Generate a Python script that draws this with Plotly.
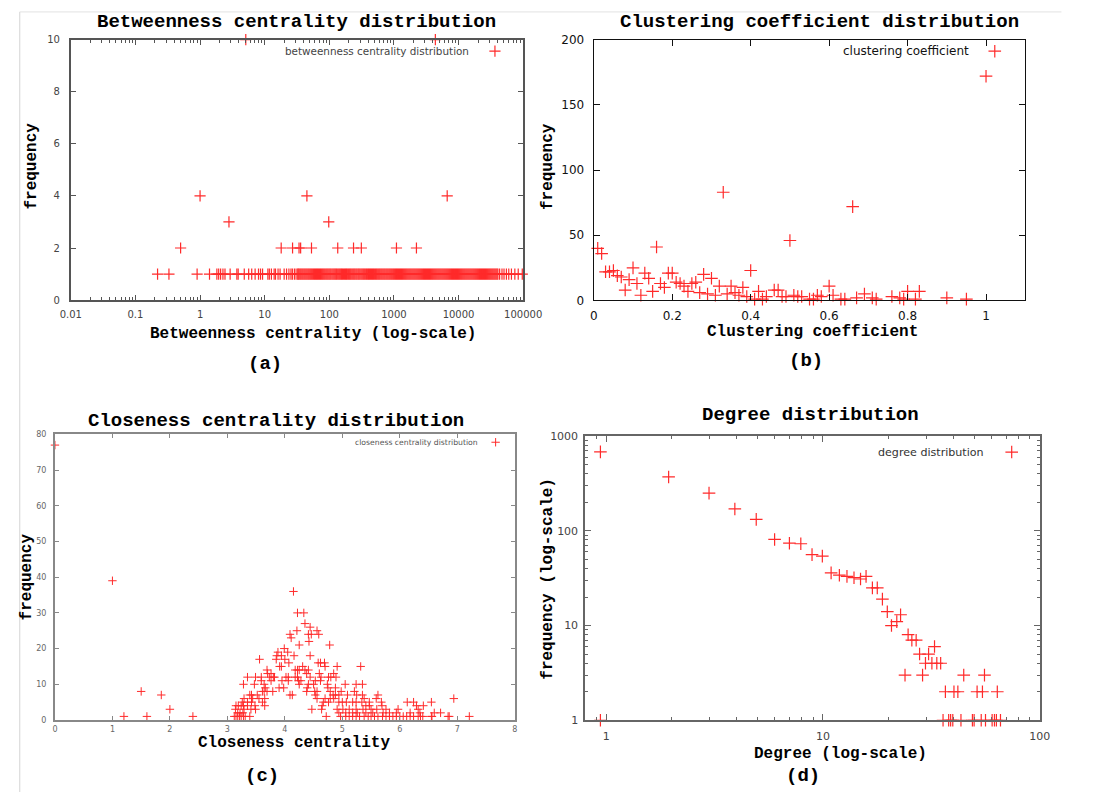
import math
import plotly.graph_objects as go

W, H = 1096, 799


def fx(p):
    return p / W


def fy(p):
    return 1 - p / H


# ---------------- (a) Betweenness centrality ----------------
betw_multi_values = [0.5, 1.0, 2.8, 18, 27, 34, 36, 45, 53, 98, 135, 237, 313,
                     1094, 2229, 6670, 5.1, 4375]
betw_multi_freq = [2, 4, 3, 2, 2, 2, 2, 4, 2, 3, 2, 2, 2, 2, 2, 4, 10, 10]
betw_single_values = [
    0.22, 0.33, 0.9, 1.4, 1.82, 1.94, 2.08, 2.26, 2.43, 2.92, 3.71, 3.89, 4.83,
    5.65, 6.30, 7.11, 8.02, 8.62, 9.27, 11.2, 11.8, 12.7, 14.0, 14.7, 16.1,
    17.3, 20.0, 21.8, 23.7, 25.5, 26.8, 28.8, 30.6, 32.5,
    33, 34.2, 35.4, 36.6, 37.9, 39.2, 40.6, 42.0, 43.5, 45.0, 46.6, 48.2,
    49.9, 51.6, 53.4, 55.3, 57.2, 59.2, 61.3, 63.4, 65.6, 67.9, 70.3, 72.8,
    75.3, 77.9, 80.6, 83.4, 86.3, 89.4, 92.5, 95.7, 99.1, 102.5, 106, 110,
    114, 118, 122, 126, 130, 135, 140, 145, 150, 155, 160, 166, 172, 178, 184,
    190, 197, 204, 211, 218, 226, 234, 242, 250, 259, 268, 278, 287, 297, 308,
    319, 330, 341, 353, 366, 378, 392, 405, 419, 434, 449, 465, 481, 498, 516,
    534, 552, 572, 592, 612, 634, 656, 679, 703, 727, 753, 779, 806, 835, 864,
    894, 925, 958, 991, 1026, 1062, 1099, 1137, 1177, 1218, 1261, 1305, 1351,
    1398, 1447, 1498, 1550, 1604, 1660, 1719, 1779, 1841, 1905, 1972, 2041,
    2112, 2186, 2263, 2342, 2424, 2509, 2597, 2688, 2782, 2879, 2980, 3084,
    3192, 3304, 3420, 3539, 3663, 3791, 3924, 4061, 4204, 4351, 4503, 4661,
    4824, 4993, 5168, 5348, 5536, 5729, 5930, 6137, 6352, 6574, 6805, 7043,
    7290, 7545, 7809, 8082, 8365, 8658, 8961, 9275, 9599, 9935, 10283, 10643,
    11015, 11401, 11800, 12213, 12640, 13083, 13541, 14015, 14505, 15013,
    15538, 16082, 16645, 17228, 17831, 18455, 19101, 19769, 20461, 21177,
    21918, 22686, 23480, 24301, 25152, 26032, 26943, 27886, 28862, 29873,
    30918, 32000, 33120, 34279, 35479, 36721, 38006, 39336,
    40600, 43200, 47000, 50500, 55000, 59800, 65800, 74300, 83800, 96800]
betw_single_freq = [1] * len(betw_single_values)

# ---------------- (b) Clustering coefficient ----------------
clust_values = [0.01, 0.02, 0.03, 0.04, 0.05, 0.06, 0.07, 0.08, 0.09, 0.10,
                0.11, 0.12, 0.13, 0.14, 0.15, 0.16, 0.17, 0.18, 0.19, 0.20,
                0.21, 0.22, 0.23, 0.24, 0.25, 0.26, 0.27, 0.28, 0.29, 0.30,
                0.31, 0.32, 0.33, 0.34, 0.35, 0.36, 0.37, 0.38, 0.39, 0.40,
                0.41, 0.42, 0.43, 0.44, 0.46, 0.47, 0.48, 0.49, 0.50, 0.51,
                0.52, 0.53, 0.55, 0.56, 0.57, 0.58, 0.60, 0.61, 0.63, 0.64,
                0.66, 0.67, 0.69, 0.71, 0.72, 0.76, 0.78, 0.79, 0.80, 0.82,
                0.83, 0.90, 0.95, 1.00]
clust_freq = [40, 36, 22, 22, 23, 19, 18, 8, 16, 25,
              13, 4, 21, 17, 7, 41, 13, 10, 21, 21,
              14, 13, 11, 7, 13, 14, 6, 20, 5, 17,
              4, 11, 83, 5, 11, 6, 4, 10, 3, 23,
              1, 7, 1, 3, 8, 8, 3, 3, 46, 4,
              3, 3, 1, 1, 4, 3, 11, 4, 1, 1,
              72, 2, 5, 2, 1, 3, 2, 1, 7, 1,
              7, 2, 1, 172]

# ---------------- (c) Closeness centrality ----------------
close_values = [
    0.0, 1.0, 4.15, 1.2, 1.5, 1.6, 1.85, 2.0, 2.4,
    4.22, 4.33, 4.21, 4.35, 4.44, 4.41, 4.46, 4.42, 4.56, 4.59,
    4.25, 4.78, 4.09, 4.11, 3.99, 4.05, 3.88, 3.86, 3.94, 4.16,
    4.44, 3.85, 4.00, 3.56, 4.07, 4.58, 4.62, 4.69, 4.70, 4.91,
    5.32, 3.91, 3.94, 4.31,
    4.41, 4.18, 4.22, 4.25, 4.35, 4.38, 4.60, 3.69, 3.70, 3.76,
    3.73, 3.80, 3.82, 4.02, 4.06, 4.18, 4.22, 4.44, 4.76, 4.80,
    4.85, 4.89, 3.35, 3.49, 3.59, 3.59, 4.24, 4.28, 4.53, 4.62, 4.63,
    3.28, 3.47, 3.64, 3.76, 3.95, 4.06, 4.25, 4.39, 4.41, 4.50,
    4.74, 4.75, 5.05, 5.24, 5.35, 4.88, 4.98, 5.21, 3.66, 3.61,
    3.64, 3.69, 3.79, 3.90, 3.98, 4.38, 4.52, 4.56, 4.79, 4.84,
    3.52, 3.39, 3.42, 4.09, 4.13, 4.53, 4.56, 4.88, 4.94, 5.09,
    5.25, 5.35, 5.38, 5.62, 5.59, 4.70, 4.79, 4.85, 3.29, 3.44,
    3.55, 3.65,
    4.67, 4.65, 4.76, 4.94, 5.00, 5.07, 5.18, 5.24, 5.34, 5.47,
    5.68, 6.13, 6.24, 6.55, 6.94, 3.26, 3.35, 3.42, 3.61,
    3.15, 3.19, 3.24, 3.28, 3.35, 3.48, 3.65, 4.47, 4.64, 5.41,
    5.47, 5.69, 6.29, 6.41, 3.29, 3.41, 3.49, 3.14, 4.91, 5.01,
    5.12, 5.24, 5.36, 5.50, 5.60, 5.76, 5.97, 6.32,
    4.94, 5.06, 5.18, 5.26, 5.41, 5.53, 5.71, 5.82, 5.94, 6.18,
    6.35, 6.60, 6.71, 3.18, 3.22, 3.27,
    4.72, 3.12, 3.15, 3.18, 3.21, 3.24, 3.28, 3.31, 3.39, 4.97,
    5.06, 5.12, 5.18, 5.24, 5.30, 5.38, 5.45, 5.50, 5.56, 5.62,
    5.70, 5.76, 5.82, 5.88, 5.94, 6.00, 6.06, 6.12, 6.18, 6.24,
    6.32, 6.36, 6.40, 6.55, 6.56, 6.84, 6.86, 7.21]
close_freq = [
    77, 39, 36, 1, 8, 1, 7, 3, 1,
    30, 30, 25, 27, 26, 24, 24, 22, 25, 24,
    21, 21, 24, 23, 20, 19, 19, 18, 18, 18,
    18, 17, 17, 17, 16, 16, 16, 16, 15, 15,
    15, 15, 15, 15,
    14, 14, 14, 14, 14, 13, 13, 14, 13, 13,
    12, 12, 12, 12, 12, 12, 12, 12, 12, 12,
    13, 12, 12, 12, 12, 11, 11, 11, 11, 11, 12,
    10, 10, 10, 11, 11, 11, 10, 9, 10, 10,
    10, 9, 10, 10, 10, 9, 8, 8, 9, 8,
    8, 8, 8, 9, 9, 8, 8, 8, 8, 7,
    7, 7, 7, 7, 7, 7, 6, 7, 7, 7,
    7, 7, 6, 7, 6, 6, 6, 6, 6, 6,
    6, 6,
    5, 4, 5, 5, 5, 5, 5, 5, 5, 5,
    5, 5, 5, 5, 6, 5, 5, 5, 5,
    4, 4, 4, 4, 4, 4, 4, 3, 3, 4,
    4, 4, 4, 4, 3, 3, 3, 3, 3, 3,
    3, 3, 3, 3, 3, 3, 3, 3,
    2, 2, 2, 2, 2, 2, 2, 2, 2, 2,
    2, 2, 2, 2, 2, 2,
    1, 1, 1, 1, 1, 1, 1, 1, 1, 1,
    1, 1, 1, 1, 1, 1, 1, 1, 1, 1,
    1, 1, 1, 1, 1, 1, 1, 1, 1, 1,
    1, 1, 1, 1, 1, 1, 1, 1]

# ---------------- (d) Degree ----------------
degree_values = [0.94, 1.94, 2.98, 3.92, 4.92, 5.98, 7.0, 7.9, 8.9, 9.93,
                 10.9, 11.9, 12.9, 13.9, 14.9, 15.8, 16.9, 17.8, 18.8, 19.8,
                 20.7, 21.9, 22.8, 23.9, 24.7, 25.7, 26.9, 27.9, 28.8, 29.7,
                 30.7, 31.8, 32.7, 33.5, 34.9, 36.7, 40.2, 41.9, 44.6, 51.4,
                 54.4, 55.6, 63.7,
                 0.94, 35.8, 38.0, 38.8, 39.7, 43.3, 48.9, 49.8, 53.7, 56.2,
                 60.3, 61.8, 63.1, 65.9]
degree_freq = [680, 370, 250, 170, 132, 81, 74, 73, 56, 54,
               36, 34, 33, 32, 31, 33, 25, 25, 19, 14,
               10, 11, 13, 3, 8, 7, 7, 5, 3, 4,
               5, 4, 6, 4, 4, 2, 2, 2, 3, 2,
               2, 3, 2,
               1, 1, 1, 1, 1, 1, 1, 1, 1, 1,
               1, 1, 1, 1]

RED = "#ff2a2a"
MONO = "Liberation Mono"
SANS = "DejaVu Sans"

fig = go.Figure()


def cross(size, width):
    return dict(symbol="cross-thin", size=size, color=RED,
                line=dict(color=RED, width=width))


fig.add_trace(go.Scatter(
    x=betw_multi_values + betw_single_values,
    y=betw_multi_freq + betw_single_freq,
    mode="markers", marker=cross(8, 1.2), cliponaxis=False,
    xaxis="x", yaxis="y", name=" ", legend="legend", showlegend=True))
fig.add_trace(go.Scatter(
    x=clust_values, y=clust_freq, mode="markers", marker=cross(9, 1.2),
    cliponaxis=False, xaxis="x2", yaxis="y2", name=" ", legend="legend2",
    showlegend=True))
fig.add_trace(go.Scatter(
    x=close_values, y=close_freq, mode="markers", marker=cross(6, 1),
    cliponaxis=False, xaxis="x3", yaxis="y3", name=" ", legend="legend3",
    showlegend=True))
fig.add_trace(go.Scatter(
    x=degree_values, y=degree_freq, mode="markers", marker=cross(9, 1.2),
    cliponaxis=False, xaxis="x4", yaxis="y4", name=" ", legend="legend4",
    showlegend=True))


def ax(color, lw, tfont_size, tfont_color, ticklen=5):
    return dict(showline=True, linecolor=color, linewidth=lw, mirror="ticks",
                ticks="inside", tickcolor=color, tickwidth=1, ticklen=ticklen,
                showgrid=False, zeroline=False,
                tickfont=dict(family=SANS, size=tfont_size, color=tfont_color))


def log_minor(exps, extra=()):
    vals = [k * 10 ** e for e in exps for k in range(2, 10)] + list(extra)
    return vals


# (a)
xa = ax("#555555", 1.8, 10, "#444444")
xa.update(domain=[fx(61.5), fx(526.6)], type="log", range=[-2, 5],
          tickvals=[0.01, 0.1, 1, 10, 100, 1000, 10000, 100000],
          ticktext=["0.01", "0.1", "1", "10", "100", "1000", "10000", "100000"],
          minor=dict(tickvals=log_minor(range(-2, 5)), ticks="inside",
                     ticklen=3, tickcolor="#555555"),
          anchor="y", ticklabelstandoff=4)
ya = ax("#555555", 1.8, 10, "#444444")
ya.update(domain=[fy(298.3), fy(33.3)], range=[0, 10], tickvals=[0, 2, 4, 6, 8, 10],
          anchor="x", ticklabelstandoff=7)

# (b)
xb = ax("#111111", 1.3, 12, "#111111", ticklen=6)
xb.update(domain=[fx(599.2), fx(1042.8)], range=[0, 1.1],
          tickvals=[0, 0.2, 0.4, 0.6, 0.8, 1],
          ticktext=["0", "0.2", "0.4", "0.6", "0.8", "1"], anchor="y2",
          ticklabelstandoff=4)
yb = ax("#111111", 1.3, 12, "#111111", ticklen=6)
yb.update(domain=[fy(298.7), fy(33.3)], range=[0, 200],
          tickvals=[0, 50, 100, 150, 200], anchor="x2", ticklabelstandoff=6)

# (c)
xc = ax("#888888", 1.8, 8, "#666666", ticklen=4)
xc.update(domain=[fx(45.2), fx(517.9)], range=[0, 8], dtick=1, anchor="y3",
          ticklabelstandoff=1)
yc = ax("#888888", 1.8, 8, "#666666", ticklen=4)
yc.update(domain=[fy(725.7), fy(435)], range=[0, 80], dtick=10, anchor="x3",
          ticklabelstandoff=5)

# (d)
xd = ax("#666666", 1.8, 11, "#444444", ticklen=6)
xd.update(domain=[fx(590.4), fx(1057.7)], type="log",
          range=[math.log10(0.8), 2], tickvals=[1, 10, 100],
          ticktext=["1", "10", "100"],
          minor=dict(tickvals=log_minor([0, 1], extra=[0.9]), ticks="inside",
                     ticklen=3, tickcolor="#666666"),
          anchor="y4", ticklabelstandoff=5)
yd = ax("#666666", 1.8, 11, "#444444", ticklen=6)
yd.update(domain=[fy(726), fy(436.7)], type="log", range=[0, 3],
          tickvals=[1, 10, 100, 1000], ticktext=["1", "10", "100", "1000"],
          minor=dict(tickvals=log_minor([0, 1, 2]), ticks="inside",
                     ticklen=3, tickcolor="#666666"),
          anchor="x4", ticklabelstandoff=3)


def leg(xm, ym, size):
    return dict(x=fx(xm - 20), y=fy(ym), xanchor="left", yanchor="middle",
                bgcolor="rgba(0,0,0,0)", borderwidth=0,
                font=dict(size=size), itemwidth=30)


annotations = []


def text(x, y, s, size, color="#000000", family=MONO, bold=True, angle=0,
         xanchor="center"):
    annotations.append(dict(
        x=fx(x), y=fy(y), xref="paper", yref="paper", showarrow=False,
        text=f"<b>{s}</b>" if bold else s, textangle=angle,
        xanchor=xanchor, yanchor="middle",
        font=dict(family=family, size=size, color=color)))


# titles
text(293.7, 15, "Betweenness centrality distribution", 19)
text(831.3, 15, "Clustering coefficient distribution", 19)
text(272, 421, "Closeness centrality distribution", 19)
text(821.9, 415, "Degree distribution", 19)
# axis titles
text(310.2, 332.7, "Betweenness centrality (log-scale)", 16)
text(824.4, 331, "Clustering coefficient", 16)
text(291.1, 749, "Closeness centrality", 16)
text(853, 760, "Degree (log-scale)", 16)
text(22, 162, "frequency", 16, angle=-90)
text(552, 162, "frequency", 16, angle=-90)
text(16, 580, "frequency", 16, angle=-90)
text(552, 582, "frequency (log-scale)", 16, angle=-90)
# panel labels
text(261.6, 363, "(a)", 19)
text(817.5, 360, "(b)", 19)
text(258.4, 783, "(c)", 19)
text(814, 783, "(d)", 19)
# legend texts
text(472.7, 45, "betweenness centrality distribution", 10.4, "#444444", SANS,
     False, xanchor="right")
text(987.5, 45, "clustering coefficient", 12, "#111111", SANS, False,
     xanchor="right")
text(482.4, 443, "closeness centrality distribution", 7.7, "#555555", SANS,
     False, xanchor="right")
text(1002.8, 453, "degree distribution", 11.1, "#333333", SANS, False,
     xanchor="right")

shapes = [
    dict(type="line", xref="paper", yref="paper", x0=fx(9), x1=fx(9),
         y0=fy(5), y1=0, line=dict(color="#d4d4d4", width=1)),
    dict(type="line", xref="paper", yref="paper", x0=fx(9), x1=fx(1080),
         y0=fy(5), y1=fy(5), line=dict(color="#e2e2e2", width=1)),
]

fig.update_layout(
    width=W, height=H, autosize=False,
    margin=dict(l=0, r=0, t=0, b=0),
    paper_bgcolor="white", plot_bgcolor="white",
    showlegend=True,
    xaxis=xa, yaxis=ya, xaxis2=xb, yaxis2=yb,
    xaxis3=xc, yaxis3=yc, xaxis4=xd, yaxis4=yd,
    legend=leg(497, 45, 10), legend2=leg(1010.9, 45, 10),
    legend3=leg(497.7, 443, 10), legend4=leg(1028.3, 453, 10),
    annotations=annotations, shapes=shapes,
)

fig.write_html("out.html")
